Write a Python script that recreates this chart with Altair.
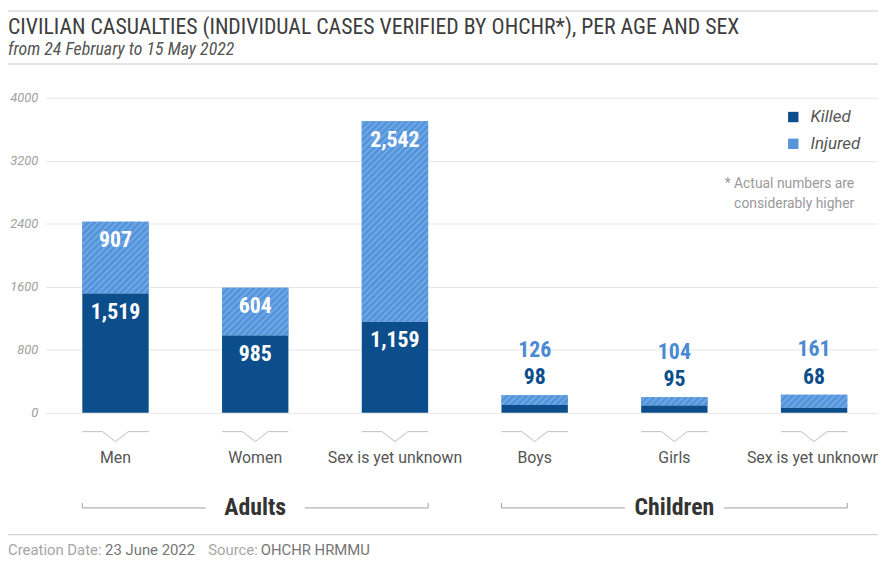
import altair as alt
import pandas as pd

# ---- data ----
categories = ["men", "women", "adults_unknown", "boys", "girls", "children_unknown"]
category_labels = ["Men", "Women", "Sex is yet unknown", "Boys", "Girls", "Sex is yet unknown"]
age_groups = ["Adults", "Adults", "Adults", "Children", "Children", "Children"]
killed = [1519, 985, 1159, 98, 95, 68]
injured = [907, 604, 2542, 126, 104, 161]
series = ["Killed", "Injured"]
y_ticks = [0, 800, 1600, 2400, 3200, 4000]
footer_parts = ["Creation Date:", "23 June 2022", "Source:", "OHCHR HRMMU"]

DARK = "#0b4e8b"
LIGHT = "#5795da"
COND = "Roboto Condensed, Liberation Sans Narrow, DejaVu Sans Condensed, Roboto"

PLOT_W, PLOT_H = 840, 318
BAND_W = 67  # bar width in px (from band scale below)

rows = []
for c, lab, g, k, i in zip(categories, category_labels, age_groups, killed, injured):
    rows.append(dict(cat=c, label=lab, group=g, type="Killed", order=0, value=k))
    rows.append(dict(cat=c, label=lab, group=g, type="Injured", order=1, value=i))
df = pd.DataFrame(rows)
cats = pd.DataFrame({"cat": categories, "label": category_labels, "group": age_groups})
group_names = list(dict.fromkeys(age_groups))
group_mid = []
for gname in group_names:
    members = [c for c, g in zip(categories, age_groups) if g == gname]
    group_mid.append(members[len(members) // 2])
groups = pd.DataFrame({"group": group_names, "cat": group_mid})

# ---- hatch texture (diagonal stripes via a linear gradient) ----
L = 320.0      # px covered by gradient (perpendicular)
P = 4.6        # stripe period (px)
base_c, stripe_c = "#4c8dd6", "#72abe8"
stops = []
n = int(L / P)
for j in range(n + 1):
    a = j * P / L
    if a > 1:
        break
    stops.append(f"{{offset:{a:.5f},color:'{base_c}'}}")
    m = (j + 0.5) * P / L
    if m <= 1:
        stops.append(f"{{offset:{m:.5f},color:'{stripe_c}'}}")
stops_js = "[" + ",".join(stops) + "]"
K = L * 2 ** 0.5
grad_expr = (
    "{gradient:'linear',x1:0,y1:0,"
    f"x2:{BAND_W}*{K:.4f}/({BAND_W}*{BAND_W}+datum.h*datum.h),"
    f"y2:datum.h*{K:.4f}/({BAND_W}*{BAND_W}+datum.h*datum.h),"
    f"stops:{stops_js}}}"
)

YSCALE = alt.Scale(domain=[0, 4000], nice=False)
YAX = alt.Axis(values=y_ticks, title=None, domain=False, ticks=False,
               labelFont="Roboto", labelFontStyle="italic", labelFontSize=13,
               labelColor="#a0a0a0", labelPadding=8, gridColor="#e6e6e6",
               format="d")

X = alt.X("cat:N", sort=categories,
          scale=alt.Scale(range=[0, 846], paddingInner=0.525, paddingOuter=0.2624),
          axis=None)

bars = alt.Chart(df).mark_bar().encode(
    x=X,
    y=alt.Y("value:Q", stack="zero", scale=YSCALE, axis=YAX),
    color=alt.Color("type:N", scale=alt.Scale(domain=series, range=[DARK, LIGHT]),
                    legend=alt.Legend(title=None, orient="none", legendX=746, legendY=11,
                                      symbolType="square", symbolSize=110, symbolStrokeWidth=0,
                                      labelFont="Roboto", labelFontStyle="italic",
                                      labelFontSize=17, labelColor="#555555",
                                      rowPadding=9, labelOffset=9, padding=0)),
    order=alt.Order("order:Q"),
)

stacked = alt.Chart(df).transform_stack(
    stack="value", groupby=["cat"], as_=["v0", "v1"], sort=[alt.SortField("order")]
)

hatch = stacked.transform_filter(alt.datum.type == "Injured").transform_calculate(
    h=f"datum.value*{PLOT_H}/4000"
).transform_calculate(grad=grad_expr).mark_bar().encode(
    x=X,
    y=alt.Y("v0:Q", scale=YSCALE, axis=YAX),
    y2="v1:Q",
    fill=alt.Fill("grad:N", scale=None),
)

label_font = dict(font=COND, fontWeight="bold", fontSize=22, baseline="middle")

inside = stacked.transform_filter(alt.datum.group == "Adults").mark_text(
    dy=19, color="white", **label_font
).encode(x=X, y=alt.Y("v1:Q", scale=YSCALE, axis=YAX),
         text=alt.Text("value:Q", format=","))

above = alt.Chart(df).transform_joinaggregate(
    total="sum(value)", groupby=["cat"]
).transform_filter(alt.datum.group == "Children")
killed_above = above.transform_filter(alt.datum.type == "Killed").mark_text(
    dy=-18, color=DARK, **label_font
).encode(x=X, y=alt.Y("total:Q", scale=YSCALE, axis=YAX),
         text=alt.Text("value:Q", format=","))
injured_above = above.transform_filter(alt.datum.type == "Injured").mark_text(
    dy=-46, color="#4a8ad2", **label_font
).encode(x=X, y=alt.Y("total:Q", scale=YSCALE, axis=YAX),
         text=alt.Text("value:Q", format=","))

vticks = alt.Chart(cats).mark_point(
    shape="M-33.5,0L-13,0L0,10L13,0L33.5,0", size=4, filled=False,
    stroke="#bdbdbd", strokeWidth=1, opacity=1
).encode(x=X, y=alt.value(337))

cat_text = alt.Chart(cats).mark_text(
    font="Roboto", fontSize=16, color="#555555", baseline="middle"
).encode(x=X, y=alt.value(364), text="label:N")

brackets = alt.Chart(groups).mark_point(
    shape="M-174.5,-5L-174.5,0L-50,0M50,0L174.5,0L174.5,-5", size=4, filled=False,
    stroke="#9e9e9e", strokeWidth=1, opacity=1
).encode(x=X, y=alt.value(414))

group_text = alt.Chart(groups).mark_text(
    font=COND, fontWeight="bold", fontSize=24, color="#333333", baseline="middle"
).encode(x=X, y=alt.value(414), text="group:N")

one = pd.DataFrame({"t": [0]})

note = alt.Chart(one).mark_text(
    text=["* Actual numbers are", "considerably higher"], lineHeight=20,
    font="Roboto", fontSize=14, color="#9a9a9a", align="right", baseline="alphabetic"
).encode(x=alt.value(816), y=alt.value(91))

def hline(ypx):
    return alt.Chart(one).mark_rule(color="#c8c8c8", strokeWidth=1).encode(
        x=alt.value(-38), x2=alt.value(PLOT_W), y=alt.value(ypx))

title = alt.Chart(one).mark_text(
    text="CIVILIAN CASUALTIES (INDIVIDUAL CASES VERIFIED BY OHCHR*), PER AGE AND SEX",
    font=COND, fontSize=22, color="#3d3d3d", align="left", baseline="alphabetic"
).encode(x=alt.value(-38), y=alt.value(-64))

subtitle = alt.Chart(one).mark_text(
    text="from 24 February to 15 May 2022",
    font=COND, fontSize=18, fontStyle="italic", color="#555555", align="left",
    baseline="alphabetic"
).encode(x=alt.value(-38), y=alt.value(-43))

footer_x = [-38, 60, 164, 217]
footer_col = ["#a6a6a6", "#767676", "#a6a6a6", "#767676"]
footer = alt.layer(*[
    alt.Chart(one).mark_text(
        text=t, font="Roboto", fontSize=15, color=c, align="left", baseline="alphabetic"
    ).encode(x=alt.value(fx), y=alt.value(461))
    for t, fx, c in zip(footer_parts, footer_x, footer_col)
])

chart = alt.layer(
    hline(-87.5), hline(-34), hline(441),
    bars, hatch, inside, killed_above, injured_above, vticks, cat_text,
    brackets, group_text, note, title, subtitle, footer
).properties(
    width=PLOT_W, height=PLOT_H,
    autosize=alt.AutoSizeParams(type="none"),
    padding={"left": 38, "top": 88, "right": 0, "bottom": 148},
).configure_view(stroke=None)

chart.save("out.html", embed_options={"renderer": "svg", "actions": False})
